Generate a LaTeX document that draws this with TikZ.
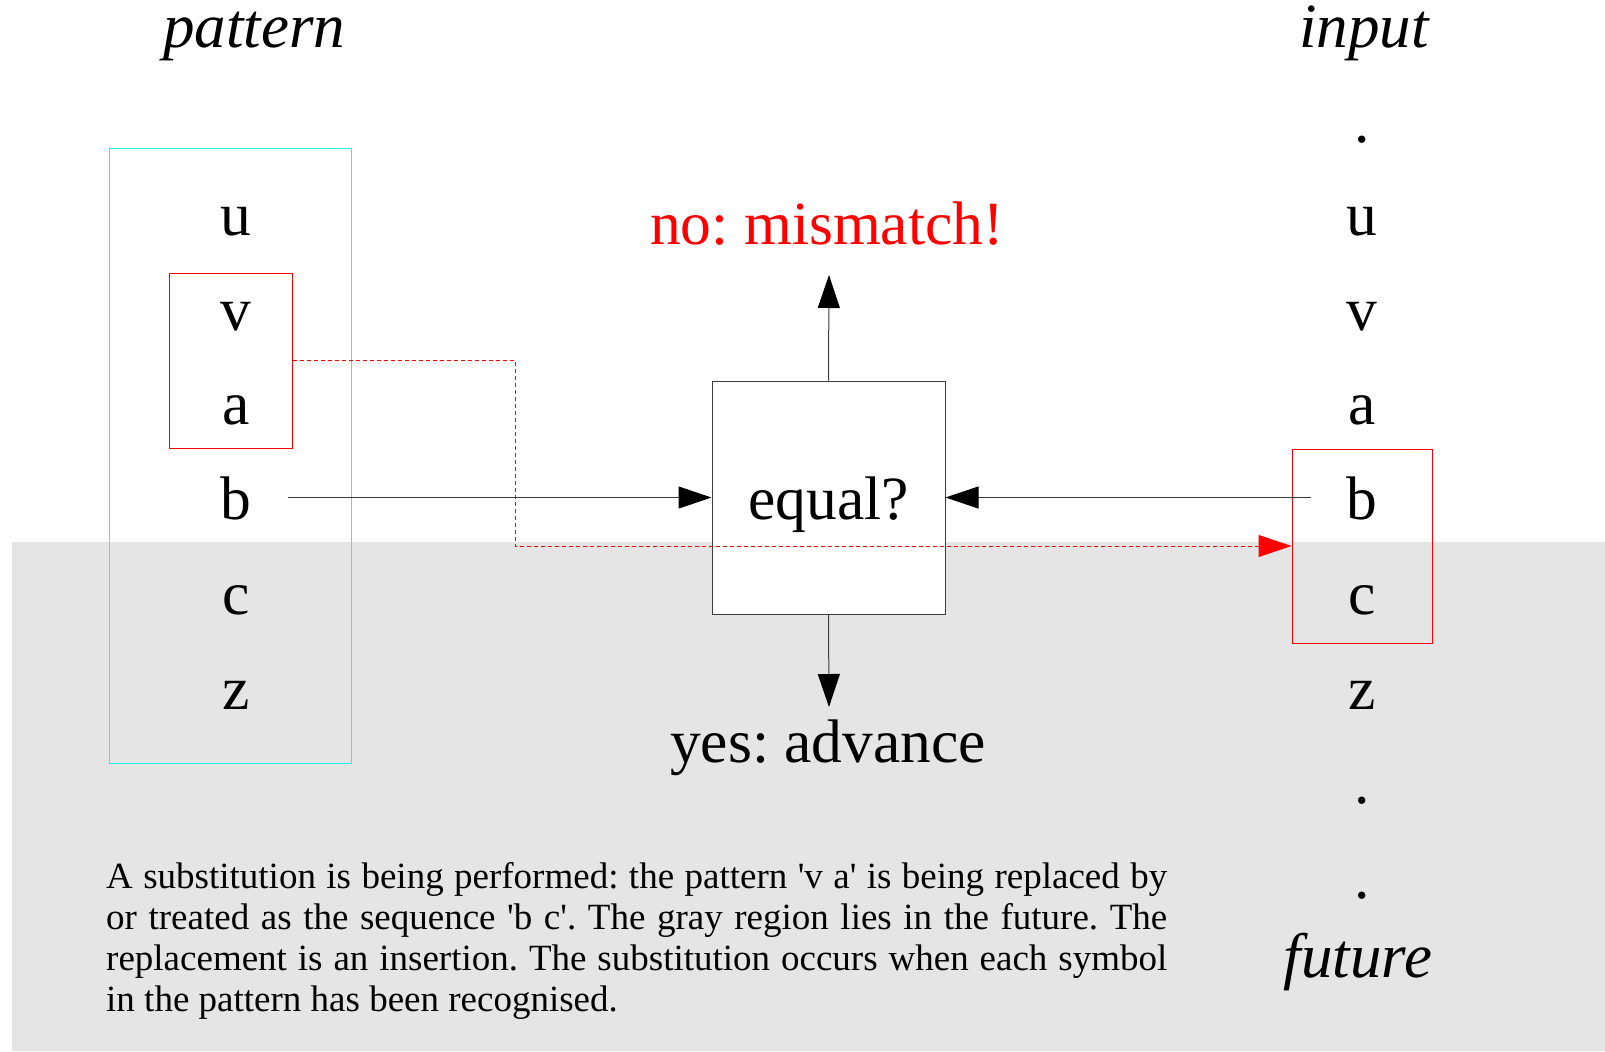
\documentclass[tikz,border=0pt]{standalone}
\usepackage{fontspec}
\setmainfont{Liberation Serif}
\usetikzlibrary{arrows.meta}
\definecolor{futuregray}{RGB}{229,229,229}
\definecolor{linegray}{RGB}{60,60,60}
\definecolor{patcyan}{RGB}{30,245,245}
\definecolor{pured}{RGB}{255,0,0}
\frenchspacing
\begin{document}
\begin{tikzpicture}[x=1bp,y=-1bp,
  sym/.style={anchor=base, inner sep=0pt, font=\fontsize{61.5bp}{70bp}\selectfont},
  heading/.style={anchor=base, inner sep=0pt, font=\fontsize{63bp}{70bp}\selectfont\itshape},
  frame/.style={draw, line width=1bp, inner sep=0pt, fill=none},
  flow/.style={draw=linegray, line width=1bp, -{Triangle[length=33bp,width=22bp,black]}},
  subst/.style={draw=pured, line width=1bp, dash pattern=on 4bp off 3bp, -{Triangle[length=33bp,width=22bp,fill=pured]}},
  caption/.style={anchor=base west, inner sep=0pt, text width=1061bp, align=justify,
    font=\fontsize{37bp}{41bp}\selectfont}]
  \useasboundingbox (0,0) rectangle (1605,1051);

  % the future: shaded lower region
  \fill[futuregray] (12,542) rectangle (1605,1051);

  % column headings
  \node[heading] (hpat) at (254,47) {pattern};
  \node[heading] (hin)  at (1364,47) {input};

  % pattern symbols
  \node[sym] (pu) at (236,235) {u};
  \node[sym] (pv) at (236,330) {v};
  \node[sym] (pa) at (236,424) {a};
  \node[sym] (pb) at (236,519) {b};
  \node[sym] (pc) at (236,614) {c};
  \node[sym] (pz) at (236,709) {z};

  % input symbols
  \node[sym] (id1) at (1362,142) {.};
  \node[sym] (iu) at (1362,235) {u};
  \node[sym] (iv) at (1362,330) {v};
  \node[sym] (ia) at (1362,424) {a};
  \node[sym] (ib) at (1362,519) {b};
  \node[sym] (ic) at (1362,614) {c};
  \node[sym] (iz) at (1362,709) {z};
  \node[sym] (id2) at (1362,803) {.};
  \node[sym] (id3) at (1362,898) {.};
  \node[heading] (hfut) at (1358,977) {future};

  % frames round the pattern and the matched pieces
  \node[frame, draw=patcyan, minimum width=242bp, minimum height=615bp] (patbox) at (230,455.5) {};
  \node[frame, draw=pured, minimum width=123bp, minimum height=175bp] (vabox) at (230.5,360.5) {};
  \node[frame, draw=pured, minimum width=140bp, minimum height=194bp] (bcbox) at (1362,546) {};

  % comparison box
  \node[frame, draw=linegray, fill=white, minimum width=233bp, minimum height=233bp] (eq) at (828.5,497.5) {};
  \node[sym] (eqtext) at (828.5,519) {equal?};

  % outcomes
  \node[sym, text=pured] (no) at (827,244) {no: mismatch!};
  \node[sym] (yes) at (828,762) {yes: advance};

  % connector ends
  \coordinate (pbout) at (288,497.5);
  \coordinate (ibout) at (1311,497.5);
  \coordinate (uptip) at (829,275);
  \coordinate (downtip) at (829,707);
  \coordinate (bend1) at (515,360.5);
  \coordinate (bend2) at (515,546);

  % connectors
  \draw[flow] (pbout) -- (eq.west);
  \draw[flow] (ibout) -- (eq.east);
  \draw[flow] (eq.north) -- (uptip);
  \draw[flow] (eq.south) -- (downtip);
  \draw[subst] (vabox.east) -- (bend1) -- (bend2) -- (bcbox.west);

  % explanatory note
  \node[caption] (note) at (106,888) {\hyphenpenalty=10000\exhyphenpenalty=10000
    A substitution is being performed: the pattern \textquotesingle v a\textquotesingle{} is being replaced by\linebreak
    or treated as the sequence \textquotesingle b c\textquotesingle. The gray region lies in the future. The\linebreak
    replacement is an insertion. The substitution occurs when each symbol\linebreak
    in the pattern has been recognised.};
\end{tikzpicture}
\end{document}
